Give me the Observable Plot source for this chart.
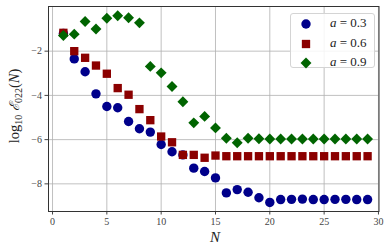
<!DOCTYPE html>
<html><head><meta charset="utf-8">
<script src="https://cdn.jsdelivr.net/npm/d3@7"></script>
<script src="https://cdn.jsdelivr.net/npm/@observablehq/plot@0.6"></script>
<style>
body{margin:0;background:#fff;}
#chart{position:relative;width:390px;height:252px;font-family:"Liberation Serif",serif;}
#legend{position:absolute;left:290px;top:13px;width:85px;height:55px;border:1px solid #d4d4d4;border-radius:3px;background:rgba(255,255,255,0.85);box-sizing:border-box;}
.lrow{position:absolute;left:0;height:18px;width:84px;font-size:13px;color:#222;}
.lrow svg{position:absolute;left:8px;top:2px;}
.lrow span{position:absolute;left:39px;top:0px;white-space:nowrap;}
</style></head><body><div id="chart"></div>
<script>
const Nvals = [1,2,3,4,5,6,7,8,9,10,11,12,13,14,15,16,17,18,19,20,21,22,23,24,25,26,27,28,29];
const a03 = [-1.20,-2.35,-2.93,-3.93,-4.50,-4.56,-5.18,-5.51,-5.66,-6.22,-6.55,-6.69,-7.29,-7.44,-7.73,-8.41,-8.26,-8.38,-8.63,-8.84,-8.71,-8.70,-8.69,-8.71,-8.71,-8.70,-8.70,-8.71,-8.71];
const a06 = [-1.17,-2.00,-2.30,-2.65,-3.02,-3.67,-3.97,-4.62,-5.12,-5.86,-6.12,-6.69,-6.69,-6.82,-6.72,-6.75,-6.75,-6.75,-6.75,-6.75,-6.75,-6.75,-6.75,-6.75,-6.75,-6.75,-6.75,-6.75,-6.75];
const a09 = [-1.29,-1.23,-0.66,-1.00,-0.51,-0.40,-0.49,-0.72,-2.69,-2.98,-3.60,-4.29,-5.24,-4.95,-5.47,-5.94,-6.14,-5.94,-5.96,-5.97,-5.97,-5.97,-5.97,-5.97,-5.97,-5.97,-5.97,-5.97,-5.97];
const seriesNames = ["a = 0.3","a = 0.6","a = 0.9"];
const seriesValues = [a03, a06, a09];
const seriesColors = ["#00008b","#8b0000","#006400"];
const seriesSymbols = ["circle","square","diamond2"];
const seriesR = [4.7, 4.7, 4.9];
const xTicks = [0,5,10,15,20,25,30];
const yTicks = [-8,-6,-4,-2];

const tables = seriesValues.map(vals => Nvals.map((n,i)=>({N:n, v:vals[i]})));

const chart = Plot.plot({
  width: 390, height: 252,
  marginLeft: 48, marginRight: 11.5, marginTop: 6, marginBottom: 41,
  style: {fontFamily: "Liberation Serif, serif", fontSize: "10px", color: "#444", background: "#fff"},
  x: {domain: [-0.37, 30.05], ticks: xTicks, tickSize: 3.5, tickPadding: 3, label: null},
  y: {domain: [-9.25, 0.02], ticks: yTicks, tickSize: 3.5, tickPadding: 3, label: null},
  marks: [
    Plot.ruleX(xTicks, {stroke: "#b0b0b0", strokeOpacity: 0.8}),
    Plot.ruleY(yTicks, {stroke: "#b0b0b0", strokeOpacity: 0.8}),
    ...tables.map((t,k) => Plot.dot(t, {x: "N", y: "v", symbol: () => seriesSymbols[k], fill: seriesColors[k], r: seriesR[k], stroke: "none"})),
    Plot.frame({stroke: "#333", strokeWidth: 1})
  ]
});
document.getElementById("chart").appendChild(chart);

const svg = d3.select(chart);
// x label
svg.append("text").attr("x", 215).attr("y", 242).attr("text-anchor","middle")
  .attr("font-family","Liberation Serif, serif").attr("font-size", 15).attr("font-style","italic").attr("fill","#222").text("N");
// y label
const yl = svg.append("text").attr("transform","translate(19,106) rotate(-90)").attr("text-anchor","middle")
  .attr("font-family","Liberation Serif, serif").attr("font-size", 14.5).attr("fill","#222");
yl.append("tspan").text("log");
yl.append("tspan").attr("font-size",10).attr("dy",3).text("10");
yl.append("tspan").attr("dy",-3).text(" ");
yl.append("tspan").attr("font-family","DejaVu Serif, serif").attr("font-style","italic").attr("font-size",13.5).text("ℰ");
yl.append("tspan").attr("font-size",10).attr("dy",3).text("022");
yl.append("tspan").attr("dy",-3).text("(");
yl.append("tspan").attr("font-style","italic").text("N");
yl.append("tspan").text(")");

// legend
const leg = document.createElement("div");
leg.id = "legend";
seriesNames.forEach((name,k)=>{
  const row = document.createElement("div");
  row.className = "lrow";
  row.style.top = (1 + k*19.5) + "px";
  const s = d3.create("svg").attr("width",14).attr("height",14);
  const sym = {circle:d3.symbolCircle, square:d3.symbolSquare, diamond2:d3.symbolDiamond2}[seriesSymbols[k]];
  s.append("path").attr("transform","translate(7,7)").attr("d", d3.symbol(sym, Math.PI*seriesR[k]*seriesR[k])()).attr("fill", seriesColors[k]);
  row.appendChild(s.node());
  const sp = document.createElement("span");
  const parts = name.split(" = ");
  sp.innerHTML = "<i>"+parts[0]+"</i> = "+parts[1];
  row.appendChild(sp);
  leg.appendChild(row);
});
document.getElementById("chart").appendChild(leg);
</script></body></html>
